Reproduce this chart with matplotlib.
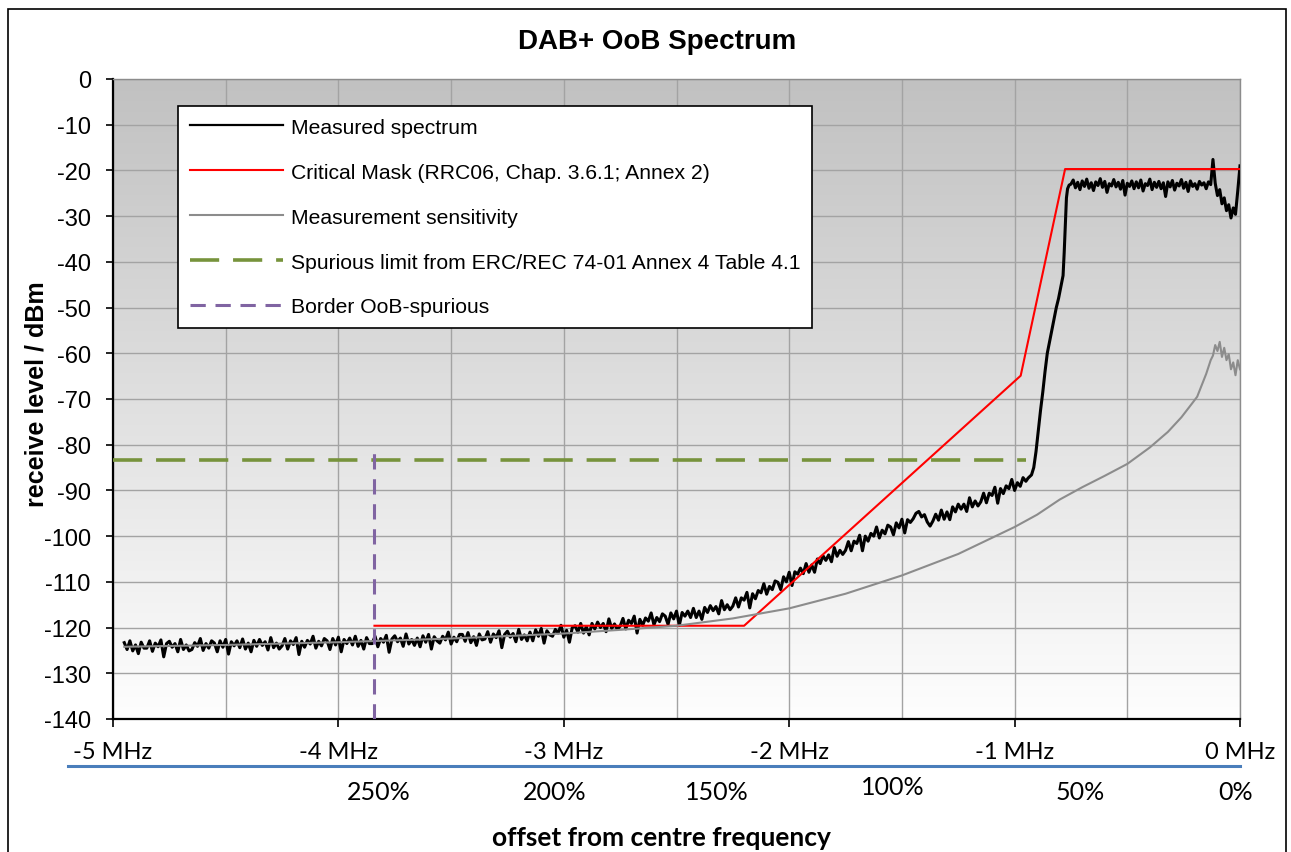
import numpy as np
import matplotlib
matplotlib.use('Agg')
import matplotlib.pyplot as plt
from matplotlib.lines import Line2D
from matplotlib.patches import Rectangle
from matplotlib.colors import LinearSegmentedColormap

plt.rcParams['font.family'] = ['Liberation Sans', 'DejaVu Sans']
plt.rcParams['lines.scale_dashes'] = False
plt.rcParams['axes.unicode_minus'] = False

# ---- data (offset in MHz, level in dBm) ----
# measured spectrum, low part on an even 0.0125 MHz grid from -4.95 to -0.9625
meas_low_f = np.linspace(-4.95, -0.9625, 320)
meas_low_v = [
    -123.3, -124.8, -122.9, -125.1, -123.8, -125.7, -123.2, -124.5,
    -124.5, -122.9, -125.2, -123.4, -124.2, -122.7, -126.4, -123.5,
    -123.0, -124.3, -123.5, -125.3, -122.6, -124.8, -123.8, -125.1,
    -124.8, -123.3, -124.1, -122.4, -125.0, -123.5, -124.5, -122.9,
    -123.4, -125.3, -122.9, -124.3, -122.6, -125.8, -123.1, -124.0,
    -122.9, -124.4, -122.5, -124.7, -123.4, -125.3, -122.8, -124.1,
    -122.6, -123.9, -123.1, -124.9, -122.2, -124.4, -123.4, -124.7,
    -124.0, -122.4, -124.7, -122.9, -123.7, -122.2, -125.9, -123.0,
    -124.3, -122.8, -123.6, -121.9, -124.5, -123.0, -124.0, -122.4,
    -122.9, -124.8, -122.4, -123.8, -122.1, -125.3, -122.6, -123.5,
    -122.3, -123.8, -121.9, -124.1, -122.8, -124.7, -122.2, -123.5,
    -123.5, -121.9, -124.2, -122.4, -123.2, -121.7, -125.4, -122.5,
    -121.8, -123.1, -122.3, -124.1, -121.4, -123.6, -122.6, -123.9,
    -122.3, -124.2, -121.8, -123.2, -121.5, -124.7, -122.0, -122.9,
    -123.4, -121.9, -122.7, -121.0, -123.6, -122.1, -123.1, -121.5,
    -121.5, -123.0, -121.1, -123.3, -122.0, -123.9, -121.4, -122.7,
    -122.5, -120.9, -123.2, -121.4, -122.2, -120.7, -124.4, -121.5,
    -120.8, -122.1, -121.3, -123.1, -120.4, -122.6, -121.6, -122.9,
    -121.0, -122.9, -120.5, -121.9, -120.2, -123.4, -120.7, -121.6,
    -121.9, -120.4, -121.2, -119.5, -122.1, -120.6, -123.2, -120.0,
    -119.6, -121.0, -119.1, -121.2, -119.8, -121.6, -119.1, -120.3,
    -118.8, -120.0, -119.1, -120.9, -118.1, -120.2, -119.2, -120.4,
    -119.7, -118.0, -120.3, -118.4, -119.1, -117.5, -121.2, -118.2,
    -119.5, -117.9, -118.6, -116.8, -119.4, -117.8, -118.7, -117.0,
    -117.5, -119.3, -116.8, -118.1, -116.4, -119.5, -116.7, -117.5,
    -116.4, -117.8, -115.8, -117.8, -116.4, -118.2, -115.6, -116.7,
    -115.2, -116.3, -115.4, -117.0, -114.1, -116.1, -115.0, -116.1,
    -115.3, -113.5, -115.5, -113.5, -114.0, -112.3, -115.7, -112.6,
    -113.7, -111.9, -112.4, -110.4, -112.7, -111.0, -111.7, -109.8,
    -110.1, -111.7, -108.9, -110.0, -107.9, -110.8, -107.8, -108.3,
    -107.0, -108.2, -106.0, -107.9, -106.3, -107.9, -105.0, -106.0,
    -104.3, -105.3, -104.1, -105.6, -102.5, -104.4, -103.1, -104.0,
    -103.1, -101.2, -103.2, -101.1, -101.6, -99.8, -103.2, -100.0,
    -101.1, -99.4, -100.0, -98.0, -100.4, -98.7, -99.5, -97.6,
    -98.0, -99.7, -97.1, -98.2, -96.3, -99.3, -96.4, -97.0,
    -96.2, -95.0, -94.6, -95.8, -95.3, -96.9, -97.8, -96.7,
    -95.2, -96.5, -94.3, -96.3, -94.7, -96.4, -93.6, -94.7,
    -93.0, -94.1, -93.0, -94.6, -91.6, -93.6, -92.3, -93.4,
    -92.5, -90.6, -92.7, -90.6, -91.1, -89.3, -92.8, -89.6,
    -90.7, -89.0, -89.6, -87.6, -90.0, -88.3, -89.1, -87.2,
]
# steep edge of the channel
meas_edge_f = [-0.95, -0.94, -0.925, -0.915, -0.905, -0.895, -0.885, -0.875,
               -0.865, -0.855, -0.845, -0.835, -0.825, -0.815, -0.805, -0.795,
               -0.785, -0.78, -0.775, -0.77, -0.765, -0.758]
meas_edge_v = [-88.0, -87.3, -86.6, -85.0, -81.5, -77.0, -72.5, -68.5,
               -64.0, -60.0, -57.5, -55.0, -52.5, -50.0, -48.0, -45.5,
               -43.0, -38.0, -32.0, -26.0, -24.0, -23.2]
# in-band part, 0.01 MHz grid from -0.75 to 0
meas_top_f = np.linspace(-0.75, 0.0, 76)
meas_top_v = [-23.0, -22.1, -23.8, -22.6, -24.2, -22.3, -23.5, -21.9, -23.9, -22.7,
              -24.4, -22.5, -23.3, -21.8, -23.7, -22.4, -24.8, -22.9, -23.4, -22.0,
              -23.6, -22.6, -24.1, -22.2, -25.4, -22.8, -23.5, -22.3, -24.0, -22.5,
              -23.8, -22.1, -24.5, -22.9, -23.3, -21.9, -24.2, -22.6, -23.7, -22.4,
              -24.0, -22.7, -25.7, -22.5, -23.6, -22.2, -24.3, -22.8, -23.4, -22.0,
              -23.9, -22.6, -24.6, -22.3, -23.5, -22.9, -24.1, -22.4, -23.2, -22.7,
              -24.0, -22.5, -23.1, -17.6, -22.8, -25.5, -24.2, -27.3, -26.0, -28.8,
              -27.5, -30.4, -28.2, -29.6, -24.5, -19.0]

# critical mask
mask_f = [-3.84, -2.2, -0.973, -0.776, 0.0]
mask_v = [-119.6, -119.6, -64.9, -19.7, -19.7]

# measurement sensitivity
sens_f = [-4.95, -4.5, -4.0, -3.5, -3.0, -2.75, -2.5, -2.25, -2.0, -1.75, -1.5,
          -1.25, -1.0, -0.9, -0.8, -0.7, -0.6, -0.5, -0.4, -0.32, -0.26, -0.21,
          -0.19, -0.17, -0.15, -0.13, -0.12, -0.11, -0.10, -0.09, -0.08, -0.07,
          -0.06, -0.05, -0.04, -0.03, -0.02, -0.01, 0.0]
sens_v = [-124.2, -123.8, -123.2, -122.4, -121.3, -120.5, -119.6, -118.0, -115.8,
          -112.6, -108.6, -103.9, -98.0, -95.3, -92.0, -89.3, -86.8, -84.2, -80.6,
          -77.2, -74.0, -70.8, -69.5, -67.0, -64.5, -61.5, -60.5, -58.2, -59.5,
          -57.5, -60.8, -58.8, -61.5, -60.2, -63.5, -62.0, -64.8, -61.5, -63.5]

# spurious limit and OoB / spurious border
spur_f = [-5.0, -0.95]
spur_v = [-83.3, -83.3]
border_f = [-3.84, -3.84]
border_v = [-140.0, -81.3]

xticks = [-5, -4, -3, -2, -1, 0]
xtick_labels = ['-5 MHz', '-4 MHz', '-3 MHz', '-2 MHz', '-1 MHz', '0 MHz']
yticks = list(range(0, -141, -10))
pct_labels = ['250%', '200%', '150%', '100%', '50%', '0%']
pct_x = [-3.82, -3.04, -2.32, -1.54, -0.71, -0.02]

labels = ['Measured spectrum',
          'Critical Mask (RRC06, Chap. 3.6.1; Annex 2)',
          'Measurement sensitivity',
          'Spurious limit from ERC/REC 74-01 Annex 4 Table 4.1',
          'Border OoB-spurious']

# ---- figure ----
W, H = 1291, 853
fig = plt.figure(figsize=(W / 100, H / 100), dpi=100)
ax = fig.add_axes([113 / W, 1 - 720 / H, (1240 - 113) / W, (720 - 80) / H])

# grey-to-white background of the plot area
bg = LinearSegmentedColormap.from_list('bg', ['#fefefe', '#c1c1c1'])
ax.imshow(np.linspace(0, 1, 256).reshape(-1, 1), extent=[-5, 0, -140, 0],
          aspect='auto', origin='lower', cmap=bg, zorder=0)

meas_f = np.concatenate([meas_low_f, meas_edge_f, meas_top_f])
meas_v = np.concatenate([meas_low_v, meas_edge_v, meas_top_v])

l1, = ax.plot(meas_f, meas_v, color='black', lw=2.2, zorder=3)
l2, = ax.plot(mask_f, mask_v, color='#ff0000', lw=1.5, zorder=4)
l3, = ax.plot(sens_f, sens_v, color='#8c8c8c', lw=1.5, zorder=4)
l4, = ax.plot(spur_f, spur_v, color='#77933c', lw=2.6, dashes=(21, 10), zorder=5)
l5, = ax.plot(border_f, border_v, color='#8064a2', lw=2.2, dashes=(11, 7), zorder=5)

ax.set_xlim(-5, 0)
ax.set_ylim(-140, 0)
ax.set_xticks(xticks)
ax.set_xticklabels(xtick_labels, fontfamily='Lato', fontsize=17)
ax.set_xticks(np.arange(-4.5, 0, 1.0), minor=True)
ax.set_yticks(yticks)
ax.tick_params(axis='y', labelsize=17, length=5, width=1.2, pad=11, direction='out')
ax.tick_params(axis='x', which='major', length=6, width=1.2, pad=10, direction='out')
ax.tick_params(axis='x', which='minor', length=0)
ax.grid(True, which='both', color='#a3a3a3', lw=1.0)
ax.set_axisbelow(True)
for s in ['left', 'bottom']:
    ax.spines[s].set_linewidth(1.6)
    ax.spines[s].set_color('black')
for s in ['top', 'right']:
    ax.spines[s].set_linewidth(1.0)
    ax.spines[s].set_color('#8c8c8c')

leg = ax.legend([l1, l2, l3, l4, l5], labels, loc='upper left',
                bbox_to_anchor=(178 / W, 1 - 107 / H), bbox_transform=fig.transFigure,
                borderaxespad=0, fontsize=15.2, handlelength=4.4, handletextpad=0.4,
                labelspacing=1.23, borderpad=0.55, fancybox=False, framealpha=1)
leg.get_frame().set_edgecolor('black')
leg.get_frame().set_linewidth(1.2)
leg.get_lines()[0].set_linewidth(1.6)
leg.set_zorder(10)

# title and axis labels
fig.text(657 / W, 1 - 42 / H, 'DAB+ OoB Spectrum', ha='center', va='center',
         fontsize=20, fontweight='bold')
fig.text(37 / W, 1 - 394 / H, 'receive level / dBm', ha='center', va='center',
         rotation=90, fontsize=18, fontweight='bold')
fig.text(661 / W, 1 - 838 / H, 'offset from centre frequency', ha='center',
         va='center', fontsize=19, fontweight='bold', fontfamily='Lato')

# secondary scale: percentage of the channel bandwidth
fig.add_artist(Line2D([68 / W, 1240 / W], [1 - 767 / H, 1 - 767 / H],
                      transform=fig.transFigure, color='#4a7ebb', lw=2.2))
for lab, xp in zip(pct_labels, pct_x):
    yp = 788 if lab == '100%' else 793
    ax.text(xp, (720 - yp) / 640, lab, transform=ax.get_xaxis_transform(),
            ha='center', va='center', fontsize=18, fontfamily='Lato', clip_on=False)

# outer chart frame
fig.add_artist(Rectangle((7.5 / W, -0.02), (1286 - 7.5) / W, 1.02 - 10 / H,
                         transform=fig.transFigure, fill=False, edgecolor='black', lw=1.2))

fig.savefig('out.png', dpi=100)
